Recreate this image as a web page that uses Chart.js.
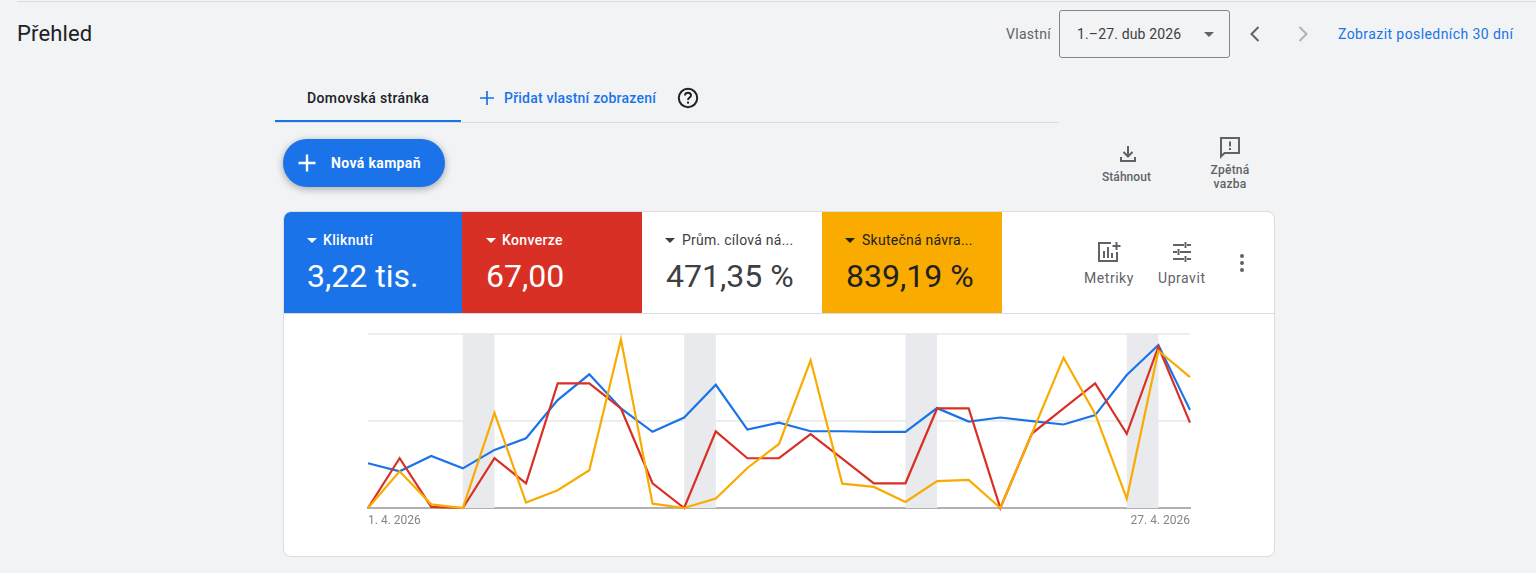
<!DOCTYPE html>
<html lang="cs"><head><meta charset="utf-8"><title>Přehled</title>
<script src="https://cdn.jsdelivr.net/npm/chart.js@4"></script>
<style>
html,body{margin:0;padding:0;width:1536px;height:573px;overflow:hidden;background:#f1f3f4;font-family:Roboto,sans-serif}
.a{position:absolute}.t{position:absolute;white-space:nowrap;line-height:20px}
svg{position:absolute;display:block}
#card{left:283px;top:211px;width:990px;height:344px;background:#fff;border:1px solid #dadce0;border-radius:8px;overflow:hidden}
.tile{position:absolute;top:0;height:101px}
.lab{font-size:14px;font-weight:500;top:18px;letter-spacing:.35px}.val{font-size:32px;line-height:40px;top:44px}
.caret{position:absolute;top:26px;width:0;height:0;border-left:5px solid transparent;border-right:5px solid transparent}
#cv{position:absolute;left:284px;top:314px;width:990px;height:242px}
</style></head><body>
<div class="a" style="left:17px;top:1px;width:1519px;height:1px;background:#dadce0"></div>
<div class="t" style="left:17px;top:21px;font-size:22px;line-height:26px;letter-spacing:.15px;color:#202124">Přehled</div>
<div class="t" style="left:1006px;top:24px;font-size:14px;letter-spacing:.3px;color:#5f6368">Vlastní</div>
<div class="a" style="left:1059px;top:10px;width:169px;height:46px;border:1px solid #80868b;border-radius:3px"></div>
<div class="t" style="left:1077px;top:24px;font-size:14px;letter-spacing:.15px;color:#3c4043">1.–27. dub 2026</div>
<div class="a" style="left:1204px;top:32px;width:0;height:0;border-left:5px solid transparent;border-right:5px solid transparent;border-top:5px solid #5f6368"></div>
<svg style="left:1243px;top:22px" width="24" height="24" viewBox="0 0 24 24"><path d="M15.5 5 8.5 12l7 7" fill="none" stroke="#5f6368" stroke-width="2"/></svg>
<svg style="left:1291px;top:22px" width="24" height="24" viewBox="0 0 24 24"><path d="M8.5 5l7 7-7 7" fill="none" stroke="#aeb1b5" stroke-width="2"/></svg>
<div class="t" style="left:1338px;top:24px;font-size:14px;letter-spacing:.42px;color:#1a73e8">Zobrazit posledních 30 dní</div>

<div class="t" style="left:307px;top:88px;font-size:14px;font-weight:500;letter-spacing:.37px;color:#202124">Domovská stránka</div>
<div class="a" style="left:275px;top:122px;width:784px;height:1px;background:#dadce0"></div>
<div class="a" style="left:275px;top:120px;width:186px;height:2px;background:#1a73e8"></div>
<svg style="left:477px;top:88px" width="20" height="20" viewBox="0 0 20 20"><path d="M10 3v14M3 10h14" stroke="#1a73e8" stroke-width="1.7"/></svg>
<div class="t" style="left:504px;top:88px;font-size:14px;font-weight:500;letter-spacing:.22px;color:#1a73e8">Přidat vlastní zobrazení</div>
<svg style="left:676px;top:86px" width="24" height="24" viewBox="0 0 24 24"><circle cx="12" cy="12" r="9.2" fill="none" stroke="#202124" stroke-width="2"/><path d="M9 9.6c0-1.7 1.3-2.8 3-2.8s3 1.1 3 2.6c0 2-3 2.2-3 4.6" fill="none" stroke="#202124" stroke-width="1.9"/><rect x="11" y="15.6" width="2" height="2" fill="#202124"/></svg>

<div class="a" style="left:283px;top:139px;width:162px;height:48px;border-radius:24px;background:#1a73e8;box-shadow:0 2px 6px 1px rgba(60,64,67,.35)"></div>
<svg style="left:297px;top:153px" width="20" height="20" viewBox="0 0 20 20"><path d="M10 1.5v17M1.5 10h17" stroke="#fff" stroke-width="2.4"/></svg>
<div class="t" style="left:331px;top:153px;font-size:14px;font-weight:700;letter-spacing:.36px;color:#fff">Nová kampaň</div>

<svg style="left:1116px;top:142px" width="24" height="24" viewBox="0 0 24 24"><path d="M12 4v10M7.5 10l4.500 4.500 4.500-4.500M5 15v4h14v-4" fill="none" stroke="#5f6368" stroke-width="2"/></svg>
<div class="t" style="left:1102px;top:167px;font-size:12px;font-weight:500;letter-spacing:.05px;color:#5f6368">Stáhnout</div>
<svg style="left:1218px;top:135px" width="24" height="24" viewBox="0 0 24 24"><path d="M3 3h18v15H6.500L3 21.500z" fill="none" stroke="#5f6368" stroke-width="2"/><path d="M12 6.500v5M12 13v2" stroke="#5f6368" stroke-width="2"/></svg>
<div class="t" style="left:1205px;top:163px;width:50px;text-align:center;font-size:12px;line-height:14px;font-weight:500;letter-spacing:.25px;color:#5f6368;white-space:normal">Zpětná<br>vazba</div>

<div id="card" class="a">
  <div class="tile" style="left:0;width:178px;background:#1a73e8;color:#fff"><span class="caret" style="left:23px;border-top:5px solid #fff"></span><div class="t lab" style="left:39px">Kliknutí</div><div class="t val" style="left:23px">3,22 tis.</div></div>
  <div class="tile" style="left:178px;width:180px;background:#d93025;color:#fff"><span class="caret" style="left:24px;border-top:5px solid #fff"></span><div class="t lab" style="left:40px">Konverze</div><div class="t val" style="left:24px">67,00</div></div>
  <div class="tile" style="left:358px;width:180px;color:#3c4043"><span class="caret" style="left:23px;border-top:5px solid #3c4043"></span><div class="t lab" style="left:40px;font-weight:400;letter-spacing:.25px">Prům. cílová ná...</div><div class="t val" style="left:24px">471,35 %</div></div>
  <div class="tile" style="left:538px;width:180px;background:#f9ab00;color:#202124"><span class="caret" style="left:23px;border-top:5px solid #202124"></span><div class="t lab" style="left:40px;font-weight:400;letter-spacing:.25px">Skutečná návra...</div><div class="t val" style="left:24px">839,19 %</div></div>
  <div class="a" style="left:0;top:101px;width:990px;height:1px;background:#dadce0"></div>
</div>
<svg style="left:1097px;top:241px" width="24" height="22" viewBox="0 0 24 22"><path d="M14 2H2v18h18v-9" fill="none" stroke="#5f6368" stroke-width="2"/><path d="M7 10v7M11 6v11M15 12v5M19.500 1v8M15.500 5h8" stroke="#5f6368" stroke-width="2"/></svg>
<div class="t" style="left:1084px;top:268px;font-size:14px;letter-spacing:.55px;color:#5f6368">Metriky</div>
<svg style="left:1171px;top:241px" width="22" height="22" viewBox="0 0 22 22"><path d="M2 4h11M16 4h4M2 11h4M9 11h11M2 18h11M16 18h4M14.500 1v6M7.500 8v6M14.500 15v6" stroke="#5f6368" stroke-width="2" fill="none"/></svg>
<div class="t" style="left:1158px;top:268px;font-size:14px;letter-spacing:.55px;color:#5f6368">Upravit</div>
<svg style="left:1236px;top:253px" width="12" height="20" viewBox="0 0 12 20"><circle cx="6" cy="3" r="2" fill="#5f6368"/><circle cx="6" cy="10" r="2" fill="#5f6368"/><circle cx="6" cy="17" r="2" fill="#5f6368"/></svg>
<canvas id="cv" width="990" height="242"></canvas>
<script>
const days = ["1. 4. 2026","2. 4. 2026","3. 4. 2026","4. 4. 2026","5. 4. 2026","6. 4. 2026","7. 4. 2026","8. 4. 2026","9. 4. 2026","10. 4. 2026","11. 4. 2026","12. 4. 2026","13. 4. 2026","14. 4. 2026","15. 4. 2026","16. 4. 2026","17. 4. 2026","18. 4. 2026","19. 4. 2026","20. 4. 2026","21. 4. 2026","22. 4. 2026","23. 4. 2026","24. 4. 2026","25. 4. 2026","26. 4. 2026","27. 4. 2026"];
const kliknuti = [25.7,21.1,29.9,22.8,33.4,40.1,62,76.8,57.2,43.8,52,70.8,45.1,49.1,44.1,44.1,43.8,43.8,57.4,49.7,52,49.9,48,53.4,76.4,93.7,56.4];
const konverze = [0,28.6,0.6,0,28.6,14.2,71.6,71.6,57.2,14.2,0,44,28.6,28.6,42.4,28.4,14.2,14.2,57.2,57.2,0,42.8,57.2,71.6,42.6,92.7,49.1];
const skutecna = [0,21.1,2.1,0,54.7,3.1,10.2,21.7,96.9,2.5,0,5.4,23.0,36.8,84.9,14,12.1,3.5,15.4,16.2,0,42.8,86.4,54.1,5.4,90.4,75.2];
const weekendStart = [3,10,17,24];
const colors = {blue:"#1a73e8",red:"#d93025",yellow:"#f9ab00"};
const bands = {id:"bands",beforeDatasetsDraw(c){const {ctx,scales:{x},chartArea:a}=c;ctx.save();ctx.fillStyle="#e8eaed";
  weekendStart.forEach(d=>{const l=x.getPixelForValue(d),r=x.getPixelForValue(d+1);ctx.fillRect(l,a.top,r-l,a.bottom-a.top)});ctx.restore()}};
const ds=(label,data,color,order)=>({label,data,borderColor:color,borderWidth:2.2,pointRadius:0,tension:0,order,clip:false,borderJoinStyle:"miter"});
new Chart(document.getElementById("cv"),{type:"line",plugins:[bands],
 data:{labels:days,datasets:[ds("Kliknutí",kliknuti,colors.blue,3),ds("Konverze",konverze,colors.red,2),ds("Skutečná návratnost",skutecna,colors.yellow,1)]},
 options:{responsive:false,animation:false,devicePixelRatio:1,layout:{padding:{left:84,right:84,top:20,bottom:0}},
  plugins:{legend:{display:false},tooltip:{enabled:false}},
  scales:{
   x:{offset:false,afterFit(s){s.height=48},grid:{display:false,drawTicks:false},border:{display:true,color:"#b0b0b0",width:2},
      ticks:{autoSkip:false,maxRotation:0,align:"inner",padding:6,color:"#80868b",font:{family:"Roboto",size:12},
      callback(v,i){return (i===0||i===days.length-1)?days[i]:""}}},
   y:{display:true,min:0,max:100,afterFit(s){s.width=0},ticks:{display:false,stepSize:50},grid:{color:"#ededed",lineWidth:2,drawTicks:false},border:{display:false}}
  }}});
</script>
</body></html>
